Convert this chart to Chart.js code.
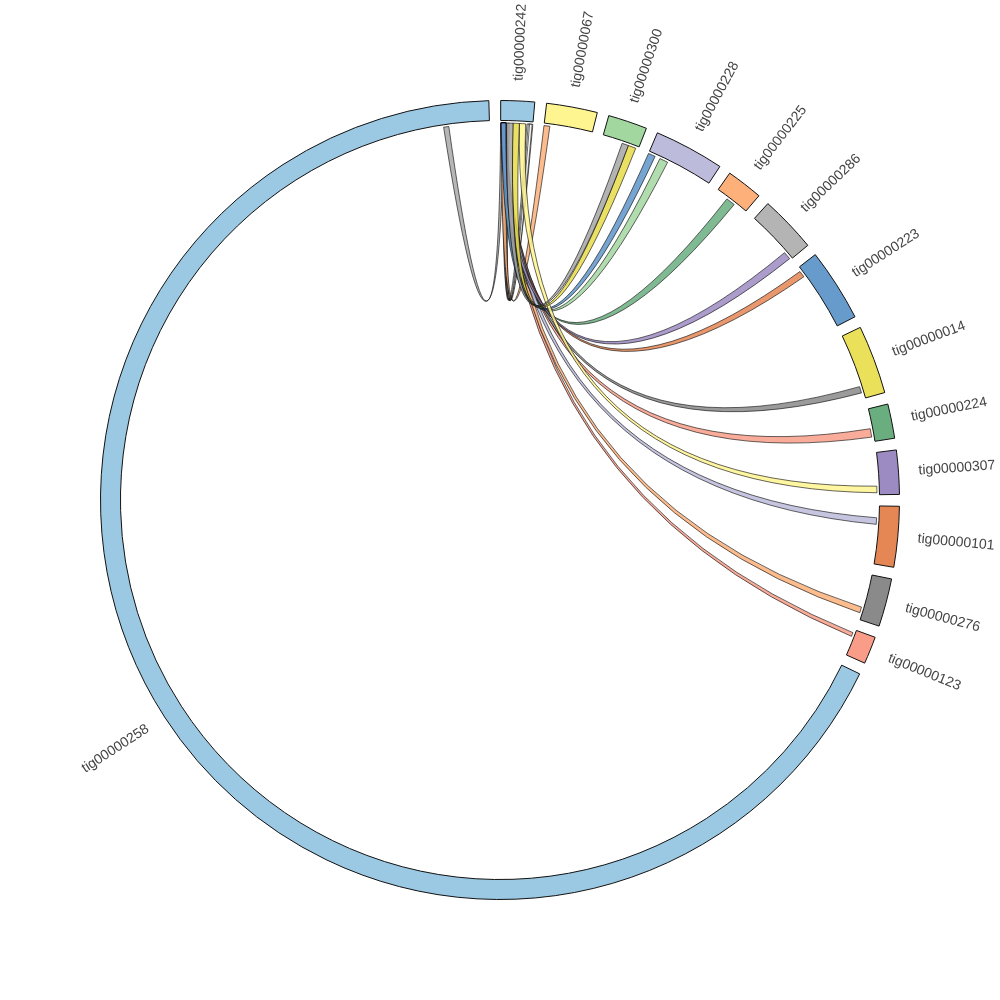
<!DOCTYPE html>
<html><head><meta charset="utf-8">
<script src="https://cdn.jsdelivr.net/npm/chart.js@4.4.1/dist/chart.umd.min.js"></script>
<style>html,body{margin:0;padding:0;background:#fff}canvas{display:block}</style>
</head><body>
<canvas id="c" width="1000" height="1000"></canvas>
<script>
// Sectors (contigs), clockwise from the top
const sectors = ['tig00000242','tig00000067','tig00000300','tig00000228','tig00000225','tig00000286','tig00000223','tig00000014','tig00000224','tig00000307','tig00000101','tig00000276','tig00000123','tig00000258'];
const sectorSizes = [4.9, 7.4, 5.7, 10.2, 5.3, 8.3, 10.6, 10.0, 5.0, 6.4, 8.8, 7.0, 4.0, 242.6];
const sectorColors = ['#9bc8e2','#fef590','#a3d7a0','#bcbbdb','#fdb07a','#b4b4b4','#669bcb','#ebe05a','#6aae7f','#9c8bc3','#e58655','#8a8a8a','#f99d88','#9bc8e2'];

// Links: positions are offsets inside each sector (same units as sectorSizes)
const linkFrom      = ['tig00000258','tig00000242','tig00000242','tig00000242','tig00000242','tig00000242','tig00000242','tig00000242','tig00000242','tig00000242','tig00000242','tig00000242','tig00000242','tig00000242','tig00000242','tig00000242','tig00000242','tig00000242'];
const linkFromStart = [235.6, 4.0, 4.2, 4.4, 0.1, 0.0, 0.1, 0.2, 0.1, 0.1, 0.2, 0.2, 0.0, 0.0, 0.1, 2.85, 1.85, 0.9];
const linkFromEnd   = [236.4, 4.9, 4.7, 4.8, 0.9, 0.6, 0.8, 0.9, 0.8, 0.8, 0.8, 0.9, 0.8, 0.7, 0.8, 3.8, 2.85, 1.9];
const linkTo        = ['tig00000242','tig00000242','tig00000242','tig00000242','tig00000067','tig00000123','tig00000276','tig00000224','tig00000014','tig00000223','tig00000225','tig00000228','tig00000101','tig00000286','tig00000228','tig00000307','tig00000300','tig00000300'];
const linkToStart   = [0.0, 0.3, 0.7, 1.1, 0.0, 0.5, 5.1, 3.0, 8.1, 0.6, 1.9, 1.9, 1.8, 6.9, 0.0, 5.1, 4.1, 3.1];
const linkToEnd     = [0.5, 0.6, 0.9, 1.3, 0.9, 1.1, 6.0, 4.3, 9.1, 1.6, 3.3, 3.2, 2.8, 8.1, 1.1, 6.1, 5.3, 4.1];
const linkColors    = ['#a9a9a9','#ffffff','#ffffff','#ffffff','#fdb07a','#f99d88','#fdb07a','#f99d88','#8a8a8a','#e58655','#6aae7f','#a3d7a0','#bcbbdb','#9c8bc3','#5f95c9','#fef590','#e6da48','#a6a6a6'];

const GAP = 1.7; // gap between sectors, in sector units

// Build the ring table for the doughnut: sector, gap, sector, gap ...
const ringData = [], ringBg = [], ringBw = [], ringLabels = [];
sectors.forEach((s, i) => {
  ringData.push(sectorSizes[i]); ringBg.push(sectorColors[i]); ringBw.push(1); ringLabels.push(s);
  ringData.push(GAP); ringBg.push('rgba(0,0,0,0)'); ringBw.push(0); ringLabels.push('');
});

function sectorArc(meta, name) { return meta.data[sectors.indexOf(name) * 2]; }
function posAngle(meta, name, pos) {
  const i = sectors.indexOf(name);
  const a = meta.data[i * 2];
  return a.startAngle + (a.endAngle - a.startAngle) * pos / sectorSizes[i];
}

const chordPlugin = {
  id: 'chords',
  afterDatasetsDraw(chart) {
    const meta = chart.getDatasetMeta(0);
    const ctx = chart.ctx;
    const a0 = meta.data[0];
    const cx = a0.x, cy = a0.y, r = a0.innerRadius - 2.5;
    const ctrlOff = r * 0.06;
    const P = t => [cx + r * Math.cos(t), cy + r * Math.sin(t)];
    ctx.save();
    for (let k = 0; k < linkFrom.length; k++) {
      let s1 = posAngle(meta, linkFrom[k], linkFromStart[k]);
      let s2 = posAngle(meta, linkFrom[k], linkFromEnd[k]);
      let t1 = posAngle(meta, linkTo[k], linkToStart[k]);
      let t2 = posAngle(meta, linkTo[k], linkToEnd[k]);
      if (s1 > t1) { [s1, s2, t1, t2] = [t1, t2, s1, s2]; }
      // control point slightly off-centre, toward the middle of the two ends
      const m1 = (s2 + t1) / 2, m2 = (t2 + s1) / 2;
      let d1 = (t1 - s2), d2 = (t2 - s1);
      const c1 = [cx + ctrlOff * Math.cos(m1) * Math.cos(d1 / 2), cy + ctrlOff * Math.sin(m1) * Math.cos(d1 / 2)];
      const c2 = [cx + ctrlOff * Math.cos(m2) * Math.cos(d2 / 2), cy + ctrlOff * Math.sin(m2) * Math.cos(d2 / 2)];
      ctx.beginPath();
      const p1 = P(s1);
      ctx.moveTo(p1[0], p1[1]);
      ctx.arc(cx, cy, r, s1, s2, false);
      const q1 = P(t1);
      ctx.quadraticCurveTo(c1[0], c1[1], q1[0], q1[1]);
      ctx.arc(cx, cy, r, t1, t2, false);
      ctx.quadraticCurveTo(c2[0], c2[1], p1[0], p1[1]);
      ctx.closePath();
      ctx.globalAlpha = 0.85;
      ctx.fillStyle = linkColors[k];
      ctx.fill();
      ctx.globalAlpha = 1;
      ctx.lineWidth = 0.7;
      ctx.strokeStyle = 'rgba(0,0,0,0.85)';
      ctx.stroke();
    }
    ctx.restore();

    // sector labels
    ctx.save();
    ctx.font = '14px "Liberation Sans", Arial, sans-serif';
    ctx.fillStyle = '#444';
    ctx.textBaseline = 'middle';
    sectors.forEach(name => {
      const a = sectorArc(meta, name);
      const mid = (a.startAngle + a.endAngle) / 2;
      const lr = a.outerRadius + 20;
      const x = cx + lr * Math.cos(mid), y = cy + lr * Math.sin(mid);
      let theta = (mid + Math.PI / 2) % (2 * Math.PI);
      if (theta < 0) theta += 2 * Math.PI;
      ctx.save();
      ctx.translate(x, y);
      if (theta < Math.PI) { ctx.rotate(mid); ctx.textAlign = 'left'; }
      else { ctx.rotate(mid + Math.PI); ctx.textAlign = 'right'; }
      ctx.fillText(name, 0, 0);
      ctx.restore();
    });
    ctx.restore();
  }
};

new Chart(document.getElementById('c'), {
  type: 'doughnut',
  data: {
    labels: ringLabels,
    datasets: [{
      data: ringData,
      backgroundColor: ringBg,
      borderColor: '#111',
      borderWidth: ringBw,
      borderJoinStyle: 'miter'
    }]
  },
  options: {
    responsive: false,
    animation: false,
    events: [],
    rotation: 0.1,
    cutout: '95%',
    layout: { padding: 100 },
    plugins: { legend: { display: false }, tooltip: { enabled: false } }
  },
  plugins: [chordPlugin]
});
</script>
</body></html>
